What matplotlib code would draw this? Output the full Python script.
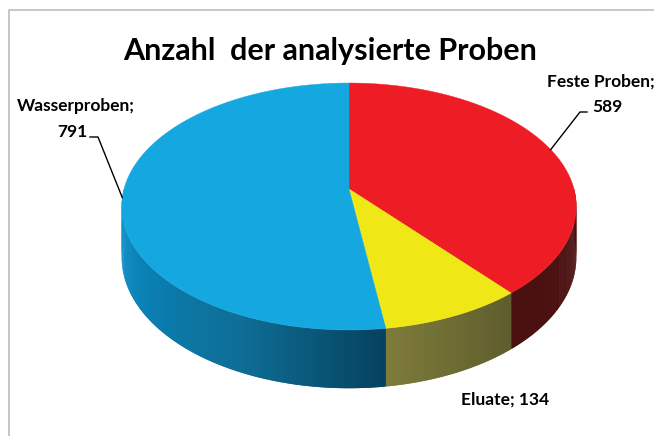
import numpy as np
import matplotlib.pyplot as plt
from matplotlib.patches import Polygon
from matplotlib.colors import LinearSegmentedColormap

# data
labels = ['Feste Proben', 'Eluate', 'Wasserproben']
values = [589, 134, 791]
title = 'Anzahl  der analysierte Proben'

# colours: top face and side wall gradient per slice
top_colors = ['#EE1D25', '#EFE816', '#15A8E0']
side_colors = [['#4B1010', '#4B1010'],
               ['#7E7B3A', '#5E5C2C'],
               ['#1C9DD5', '#0A80B5', '#0E6E96', '#06425F']]

FONT = ['Lato', 'DejaVu Sans']

fig = plt.figure(figsize=(6.54, 4.36), dpi=100)
ax = fig.add_axes([0, 0, 1, 1])

# let pie compute the slice angles, then redraw them as a tilted 3D disc
wedges, _ = ax.pie(values, startangle=90, counterclock=False, radius=1)
spans = [(w.theta1, w.theta2) for w in wedges]
for w in wedges:
    w.remove()

ax.set_aspect('auto')
ax.set_xlim(0, 654)
ax.set_ylim(436, 0)
ax.axis('off')

# perspective projection of the unit disc (pixel coords, y down)
CX, CY = 349, 189
RX, RY = 225, 121
K = 0.1417
DEPTH = 50


def proj(t_deg, dz=0.0):
    t = np.radians(t_deg)
    u, v = np.cos(t), np.sin(t)
    d = 1 + K * v
    return CX + RX * u / d, CY + (dz - RY * v) / d


# side walls (only the front half is visible)
for (t1, t2), cols in zip(spans, side_colors):
    cmap = LinearSegmentedColormap.from_list('side', cols)
    for k in (-360, 0, 360):
        lo, hi = max(t1, -180 + k), min(t2, k)
        if hi <= lo:
            continue
        n = 150
        ts = np.linspace(lo, hi, n + 1)
        for i in range(n):
            # each strip overlaps the next one to hide seams
            a, b = ts[i], ts[min(i + 2, n)]
            xa, ya = proj(a)
            xb, yb = proj(b)
            xa2, ya2 = proj(a, DEPTH)
            xb2, yb2 = proj(b, DEPTH)
            ax.add_patch(Polygon([(xa, ya), (xb, yb), (xb2, yb2), (xa2, ya2)],
                                 closed=True, facecolor=cmap(i / (n - 1)),
                                 edgecolor='none'))

# top faces
for (t1, t2), col in zip(spans, top_colors):
    ts = np.linspace(t1, t2, 200)
    xs, ys = proj(ts)
    pts = [(CX, CY)] + list(zip(xs, ys))
    ax.add_patch(Polygon(pts, closed=True, facecolor=col, edgecolor=col, lw=0.3))

# title
ax.text(330, 60, title, ha='center', va='baseline', fontsize=22,
        fontweight='bold', family=FONT)

# data labels
lab_kw = dict(fontsize=12.5, fontweight='bold', family=FONT, va='baseline')
mid_red = np.mean(spans[0])
mid_blue = np.mean(spans[2])

ax.text(547, 87, f'{labels[0]};', ha='left', **lab_kw)
ax.text(592, 112, f'{values[0]}', ha='left', **lab_kw)
xr, yr = proj(mid_red)
ax.plot([587, 580, xr], [112, 112, yr], color='black', lw=1)

ax.text(17, 111, f'{labels[2]};', ha='left', **lab_kw)
ax.text(87, 137, f'{values[2]}', ha='right', **lab_kw)
xb, yb = proj(mid_blue)
ax.plot([90, 98, xb], [137, 137, yb], color='black', lw=1)

ax.text(505, 405, f'{labels[1]}; {values[1]}', ha='center', **lab_kw)

# chart area border (cut at right and bottom)
ax.plot([8.5, 8.5, 654], [436, 10.5, 10.5], color='#BDBDBD', lw=1.2)

fig.savefig('out.png', dpi=100)
